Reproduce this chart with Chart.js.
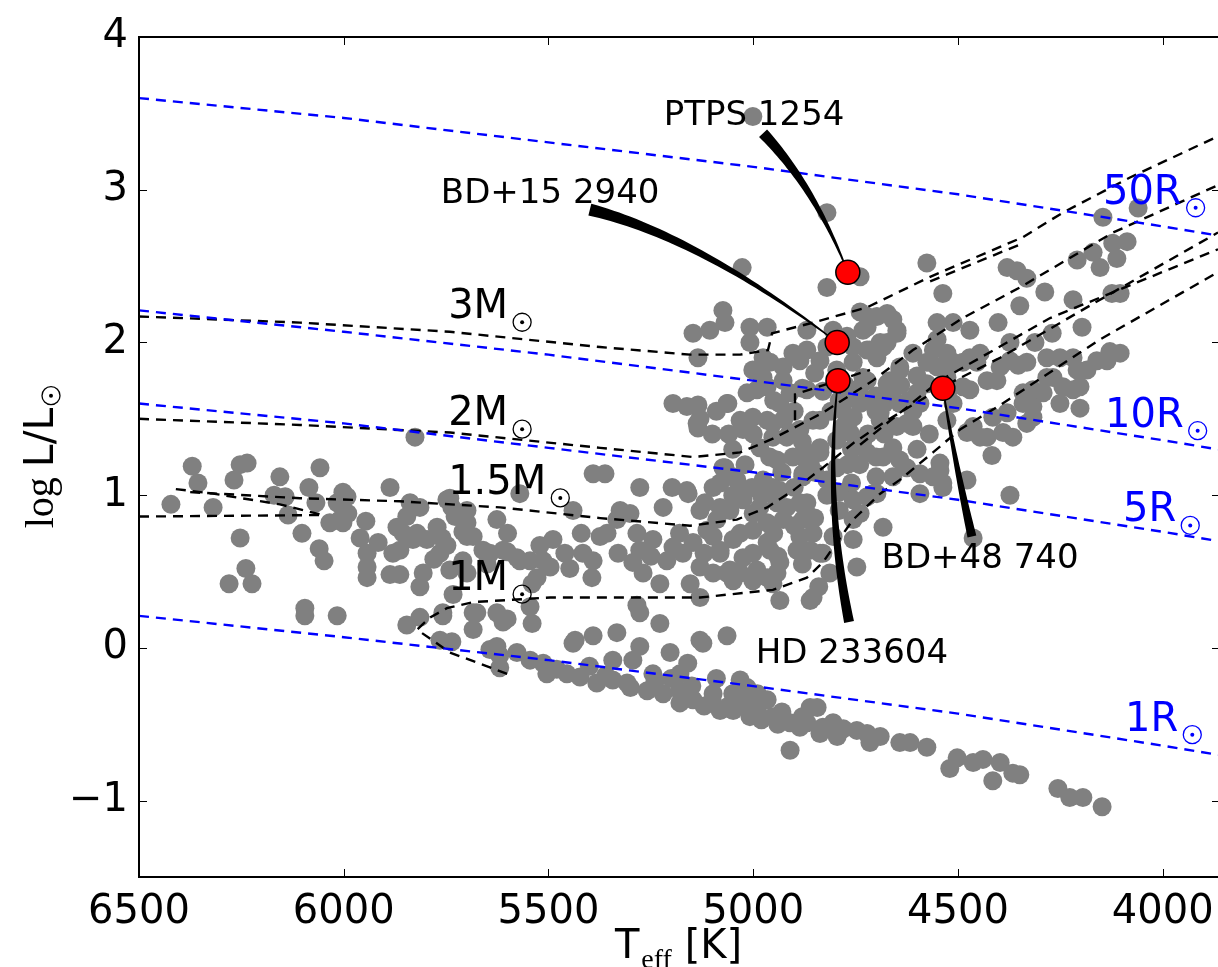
<!DOCTYPE html>
<html>
<head>
<meta charset="utf-8">
<script src="https://cdn.jsdelivr.net/npm/chart.js@4.4.0/dist/chart.umd.min.js"></script>
<style>
  html, body { margin: 0; padding: 0; background: #fff; }
  canvas { display: block; }
</style>
</head>
<body>
<canvas id="hrd" width="1218" height="967"></canvas>
<script>
// axis ticks
const tempTicks = [6500, 6000, 5500, 5000, 4500, 4000];
const lumTicks = [-1, 0, 1, 2, 3, 4];

// comparison sample: [Teff, log L/Lsun]
const stars = [
  [6370,1.19],[6356,1.08],[6422,0.94],[6319,0.92],[6268,1.10],[6253,1.20],[6236,1.21],[6156,1.12],
  [6058,1.18],[6085,1.05],[6068,0.95],[6170,1.00],[6143,0.99],[6136,0.87],[6102,0.75],[6060,0.65],
  [6048,0.57],[6253,0.72],[6239,0.52],[6224,0.42],[6280,0.42],[6095,0.26],[6095,0.21],[6016,0.21],
  [6034,0.82],[6009,0.84],[5992,0.99],[6016,0.95],[5990,0.88],[5946,0.83],[5887,1.05],[5943,0.62],
  [5943,0.53],[5943,0.46],[5916,0.69],[5887,0.48],[5863,0.48],[5846,0.15],[5826,1.38],[5870,0.79],
  [5863,0.64],[5831,0.92],[5831,0.71],[6002,1.02],[6002,0.82],[5838,0.95],[5821,0.75],[5814,0.40],
  [5806,0.49],[5772,0.79],[5748,0.67],[5741,0.98],[5728,0.86],[5699,0.90],[5684,0.73],[5626,0.84],
  [5709,0.76],[5709,0.57],[5741,0.51],[5660,0.64],[5601,0.63],[5570,0.57],[5521,0.67],[5513,0.57],
  [5570,1.01],[5684,0.23],[5733,0.35],[5758,0.21],[5626,0.23],[5611,0.17],[5545,0.27],[5540,0.16],
  [5684,0.12],[5765,0.05],[5736,0.04],[5643,-0.01],[5619,-0.05],[5577,-0.03],[5545,-0.08],[5513,-0.10],
  [5147,2.06],[5106,2.08],[5069,2.13],[5008,2.10],[4966,2.10],[5008,2.00],[5135,1.90],[4976,1.90],
  [4984,1.80],[4927,1.84],[4886,1.88],[5015,1.67],[4966,1.71],[4927,1.75],[5196,1.60],[5162,1.58],
  [5135,1.59],[5130,1.50],[5135,1.44],[5062,1.60],[5032,1.49],[5025,1.43],[5001,1.51],[4966,1.49],
  [4984,1.31],[4952,1.38],[4918,1.38],[4886,1.43],[4942,1.23],[4903,1.25],[5391,1.14],[5362,1.14],
  [5277,1.05],[5198,1.05],[5159,1.01],[5220,0.92],[5118,0.95],[5081,1.08],[5069,1.18],[5049,1.12],
  [5040,1.01],[5089,0.84],[5057,0.90],[5003,1.05],[4984,0.92],[4952,1.05],[4942,0.95],[4879,1.12],
  [4869,0.88],[5001,0.77],[4966,0.82],[4927,0.84],[4886,0.73],[4861,0.64],[5325,0.90],[5301,0.88],
  [5333,0.84],[5440,0.90],[5748,0.97],[5736,0.92],[5716,0.86],[5699,0.82],[5699,0.73],[5814,0.92],
  [5846,0.86],[5855,0.75],[5797,0.71],[5765,0.62],[5699,0.49],[5643,0.62],[5611,0.64],[5577,0.59],
  [5545,0.57],[5489,0.71],[5496,0.53],[5448,0.52],[5528,0.46],[5540,0.42],[5416,0.62],[5374,0.73],
  [5357,0.75],[5391,0.57],[5394,0.46],[5284,0.75],[5277,0.64],[5294,0.56],[5269,0.49],[5228,0.42],
  [5245,0.71],[5196,0.66],[5211,0.57],[5172,0.62],[5147,0.69],[5130,0.53],[5154,0.42],[5098,0.73],
  [5081,0.62],[5049,0.71],[5025,0.59],[5098,0.49],[5064,0.49],[5032,0.49],[5001,0.62],[4959,0.64],
  [4935,0.56],[4966,0.46],[4952,0.42],[5001,0.44],[5049,0.44],[5130,0.33],[5284,0.28],[5277,0.23],
  [5228,0.16],[5333,0.10],[5391,0.08],[5435,0.05],[5130,0.05],[5064,0.08],[4935,0.31],[4861,0.31],
  [5814,0.20],[5758,0.23],[5675,0.23],[5601,0.19],
  [5626,0.01],[5619,-0.13],[5504,-0.17],[5455,-0.17],[5423,-0.19],[5382,-0.23],[5343,-0.21],[5308,-0.23],
  [5343,-0.08],[5294,-0.08],[5277,0.01],[5245,-0.17],[5259,-0.28],[5220,-0.30],[5179,-0.36],[5147,-0.34],
  [5098,-0.30],[5081,-0.41],[5049,-0.41],[5008,-0.45],[4966,-0.34],[4952,-0.45],[4910,-0.49],[4910,-0.67],
  [4869,-0.49],[5203,-0.03],[5179,-0.17],[5123,0.03],[5032,-0.21],[5015,-0.26],[5440,0.03],
  [4861,-0.39],[4844,-0.39],[4886,-0.52],[4837,-0.56],[4805,-0.49],[4795,-0.58],[4747,-0.54],[4722,-0.56],
  [4715,-0.62],[4690,-0.58],[4642,-0.62],[4617,-0.62],[4576,-0.65],[4520,-0.79],[4502,-0.72],[4463,-0.75],
  [4439,-0.73],[4415,-0.87],[4397,-0.75],[4366,-0.82],[4349,-0.83],[4256,-0.92],[4227,-0.98],[4195,-0.98],
  [4148,-1.04],
  [5001,3.48],[5027,2.49],[4820,2.85],[4739,2.43],[4820,2.36],[4576,2.52],[4537,2.32],[4380,2.49],
  [4356,2.47],[4332,2.42],[4288,2.33],[4349,2.24],[4209,2.54],[4170,2.59],[4146,2.82],[4060,2.88],
  [4122,2.65],[4087,2.66],[4124,2.32],[4104,2.32],[4219,2.28],[4197,2.10],[4270,2.06],[4312,2.00],
  [4402,2.13],[4471,2.08],[4512,2.13],[4551,2.13],[4551,2.02],[4512,1.87],[4471,1.90],[4454,1.87],
  [4373,2.00],[4353,1.85],[4405,1.75],[4251,1.90],[4209,1.82],[4161,1.88],[4129,1.94],[4283,1.77],
  [4292,1.67],[4341,1.67],[4317,1.58],[4244,1.71],[4202,1.57],[4332,1.47],[4415,1.51],[4390,1.41],
  [4446,1.38],[4478,1.41],[4568,1.87],[4576,1.73],[4698,2.17],[4732,2.08],[4739,2.20],[4659,2.15],
  [4649,2.06],[4683,1.97],[4715,1.95],[4756,1.87],[5074,2.21],[4869,2.08],[4112,2.55],[4153,2.49],
  [4722,2.10],[4673,2.00],[4698,1.90],[4610,1.93],[4642,1.84],[4722,1.75],[4666,1.75],[4683,1.64],
  [4642,1.60],[4600,1.67],[4551,1.84],[4527,1.93],[4488,1.87],[4446,1.93],[4488,1.71],[4429,1.75],
  [4397,1.84],[4373,1.88],[4332,1.87],[4283,1.90],[4268,1.77],[4219,1.90],[4185,1.82],[4136,1.88],
  [4104,1.93],[4219,1.69],[4251,1.60],[4317,1.69],[4341,1.60],[4317,1.51],[4380,1.54],[4366,1.38],
  [4429,1.38],[4417,1.26],[4463,1.45],[4202,1.71],[4373,1.00],[4478,1.10],[4537,1.05],[4544,1.16],
  [4593,1.14],[4593,1.01],[4659,1.12],[4642,1.23],[4683,1.25],[4722,1.28],[4698,1.01],[4756,0.97],
  [4756,0.84],[4683,0.79],[4805,0.73],[4837,0.62],[4813,0.49],[4747,0.53],[4854,0.33],[4463,0.72],
  [4764,1.41],[4837,1.49],[4837,1.28],[4886,0.95],
  [5064,1.60],[5137,1.58],[5137,1.47],[4952,1.47],[4910,1.41],[5074,1.18],[5098,1.05],[5040,1.10],
  [5025,0.97],[5081,0.92],[5130,0.90],[5162,1.03],[5113,0.77],[5081,0.64],[5032,0.75],[5057,0.51],
  [4991,0.51],[4966,0.69],[4918,0.92],[4935,1.03],[4976,1.10],[4879,0.84],[4869,0.95],[4854,0.75],
  [4830,0.62],[4893,0.64],[4942,0.49],[4756,0.71],[4739,0.88],[4722,0.99],[4708,1.01],[4879,1.14],
  [4869,1.28],[4837,1.31],[4796,1.36],[4796,1.18],[4732,1.36],[4756,1.51],[4690,1.49],[4659,1.31],
  [4610,1.45],[4625,1.18],[4561,1.12],[4544,1.21],[4537,1.08],[4854,1.49],[4935,1.60],[4869,1.69],
  [4910,1.67],
  [4991,1.69],[4976,1.77],[4903,1.93],[4959,1.87],[5001,1.82],[4756,1.97],[4722,1.95],[4690,2.00],
  [4649,2.08],[4732,1.77],[4673,1.73],[4642,1.82],[4576,1.87],[4722,2.17],[4673,2.19],[4869,1.95],
  [4837,1.88],[4771,2.04],[4805,2.08],[4820,1.97],[4796,1.82],[4739,1.60],[4771,1.51],[4690,1.54],
  [4625,1.47],[4593,1.60],[4527,1.49],[4512,1.60],[4471,1.69],[4527,1.77],
  [4790,1.62],[4810,1.55],[4830,1.68],[4775,1.72],[4900,1.55],[4925,1.50],[4950,1.62],[4880,1.35],
  [4860,1.20],[4820,1.10],[4790,1.02],[4900,1.05],[4930,1.15],[4770,1.20],[4790,0.90],[4760,1.08],
  [4700,1.12],[4720,1.40],[4650,1.45],[4700,1.65],[4610,1.55],[4570,1.40],[4600,1.30],[5050,1.30],
  [5100,1.40],[5000,1.40],[5050,1.00],[5000,0.88],[5120,0.62],[5180,0.75],[5250,0.60],[5330,0.62],
  [5460,0.62],[5420,0.75],[5600,0.75],[5650,0.55],[5760,0.72],[5880,0.62],[5960,0.72],[5780,0.58],
  [4780,1.60],[4760,1.65],[4740,1.70],[4720,1.62],[4700,1.55],[4680,1.60],[4660,1.68],[4640,1.72],
  [4620,1.62],[4780,1.45],[4760,1.30],[4740,1.20],[4700,1.25],[4680,1.40],[4820,1.00],[4850,1.15],
  [4880,1.25],[4900,0.80],[4850,0.85],[4950,0.75],[4980,1.00],[5020,1.20],[4960,1.25],[5060,1.40],
  [5090,1.55],[4850,1.80],[4880,1.70],[4600,1.78],[4560,1.95],[4520,1.70],[4940,0.60],[4880,0.55],
  [4840,0.40],[5200,-0.20],[5150,-0.25],[5100,-0.35],[5050,-0.30],[4990,-0.40],[4930,-0.42],[5400,-0.12],
  [5480,-0.14],
  [5360,-0.18],[5300,-0.26],[5240,-0.22],[5180,-0.28],[5120,-0.38],[5060,-0.38],[5020,-0.36],[4980,-0.47],
  [4940,-0.50],[4880,-0.45],[4830,-0.52],[4780,-0.53],[5160,-0.10],[5090,-0.20],[4990,-0.30]
];

// the four targets
const targetNames = ['PTPS 1254', 'BD+15 2940', 'HD 233604', 'BD+48 740'];
const targetTeff = [4769, 4795, 4793, 4537];
const targetLogL = [2.46, 2.00, 1.75, 1.70];
const targetLabelTeff = [4998, 5496, 4759, 4446];
const targetLabelLogL = [3.50, 2.99, -0.02, 0.60];
// pointer: wide end, bend, then the star
const pointerStart = [[4976, 3.37], [5399, 2.87], [4766, 0.17], [4466, 0.73]];
const pointerBend = [[4849, 3.01], [5132, 2.69], [4826, 0.97], [4507, 1.21]];
const pointerWidth = [11, 12, 10, 9];

// lines of constant radius
const radiusTeff = [6500, 6000, 5500, 5000, 4500, 4000, 3865];
const r50 = [3.60, 3.47, 3.31, 3.15, 2.97, 2.76, 2.70];
const r10 = [2.21, 2.07, 1.92, 1.75, 1.57, 1.36, 1.30];
const r5 = [1.60, 1.47, 1.31, 1.15, 0.97, 0.76, 0.70];
const r1 = [0.21, 0.07, -0.08, -0.25, -0.43, -0.64, -0.70];
const radiusNames = ['50R', '10R', '5R', '1R'];
const radiusLabelTeff = [4146, 4141, 4097, 4092];
const radiusLabelLogL = [3.00, 1.54, 0.92, -0.45];

// evolutionary tracks
const track3M = [[6500,2.17],[6107,2.13],[5741,2.07],[5374,1.97],[5154,1.92],[5032,1.92],[4964,1.95],
  [4954,2.06],[4854,2.13],[4722,2.23],[4568,2.43],[4341,2.69],[4244,2.85],[4080,3.08],[3865,3.35]];
const track2M = [[6500,1.50],[6107,1.46],[5740,1.41],[5374,1.31],[5147,1.25],[5032,1.28],[4952,1.37],
  [4830,1.54],[4708,1.75],[4610,1.95],[4488,2.16],[4349,2.36],[4121,2.72],[3865,3.03]];
const track15M = [[6375,1.02],[6107,0.98],[5863,0.96],[5618,0.92],[5374,0.85],[5154,0.80],[5040,0.84],
  [4966,0.92],[4903,1.03],[4830,1.18],[4756,1.34],[4673,1.49],[4537,1.71],[4397,1.90],[4153,2.28],[3865,2.72]];
const track15Mb = [[6500,0.86],[6051,0.87]];
const track15Mc = [[6410,1.04],[6319,1.01],[6156,0.94],[6051,0.87]];
const track1M = [[5601,-0.17],[5741,-0.03],[5821,0.12],[5789,0.20],[5748,0.26],[5684,0.30],[5496,0.33],
  [5294,0.33],[5130,0.33],[4952,0.38],[4869,0.46],[4830,0.56],[4796,0.69],[4756,0.84],[4690,1.01],
  [4642,1.10],[4561,1.28],[4495,1.43],[4397,1.59],[4153,2.02],[3865,2.46]];
const trackExtra = [[4739,1.33],[4544,1.75],[4275,2.16],[3865,2.61]];
const loop3M = [[4568,2.40],[4341,2.65]];
const loop2M = [[4898,1.49],[4898,1.66],[4715,1.82]];
const massNames = ['3M', '2M', '1.5M', '1M'];
const massLabelTeff = [5745, 5745, 5745, 5745];
const massLabelLogL = [2.25, 1.55, 1.10, 0.47];

const SANS = "'DejaVu Sans', sans-serif";
const SERIF = "'Liberation Serif', serif";

function toXY(pts) {
  return pts.map(p => ({ x: p[0], y: p[1] }));
}

function dashed(pts, color, order) {
  return {
    type: 'line',
    data: toXY(pts),
    borderColor: color,
    borderWidth: 2.4,
    borderDash: [10, 7],
    pointRadius: 0,
    fill: false,
    tension: 0,
    order: order
  };
}

const datasets = [];
datasets.push({
  type: 'scatter',
  data: toXY(stars),
  backgroundColor: '#808080',
  borderWidth: 0,
  pointRadius: 9.5,
  order: 10
});
[r50, r10, r5, r1].forEach(r => {
  datasets.push(dashed(radiusTeff.map((t, i) => [t, r[i]]), '#0000ff', 7));
});
[track3M, track2M, track15M, track15Mb, track15Mc, track1M, trackExtra, loop3M, loop2M].forEach(t => {
  datasets.push(dashed(t, '#000000', 8));
});
const redIndex = datasets.length;
datasets.push({
  type: 'scatter',
  data: targetTeff.map((t, i) => ({ x: t, y: targetLogL[i] })),
  backgroundColor: '#ff0000',
  borderColor: '#000000',
  borderWidth: 1.5,
  pointRadius: 12,
  order: 1
});

function drawSun(ctx, x, y, color) {
  ctx.save();
  ctx.strokeStyle = color;
  ctx.fillStyle = color;
  ctx.lineWidth = 1.3;
  ctx.beginPath();
  ctx.arc(x, y, 9, 0, 2 * Math.PI);
  ctx.stroke();
  ctx.beginPath();
  ctx.arc(x, y, 2, 0, 2 * Math.PI);
  ctx.fill();
  ctx.restore();
}

function drawWedge(ctx, xs, ys, p0, c, p2, w0, w1) {
  const A = [xs.getPixelForValue(p0[0]), ys.getPixelForValue(p0[1])];
  const B = [xs.getPixelForValue(c[0]), ys.getPixelForValue(c[1])];
  const C = [xs.getPixelForValue(p2[0]), ys.getPixelForValue(p2[1])];
  const side1 = [], side2 = [];
  const n = 40;
  for (let i = 0; i <= n; i++) {
    const t = i / n, mt = 1 - t;
    const x = mt * mt * A[0] + 2 * mt * t * B[0] + t * t * C[0];
    const y = mt * mt * A[1] + 2 * mt * t * B[1] + t * t * C[1];
    const dx = 2 * mt * (B[0] - A[0]) + 2 * t * (C[0] - B[0]);
    const dy = 2 * mt * (B[1] - A[1]) + 2 * t * (C[1] - B[1]);
    const len = Math.hypot(dx, dy) || 1;
    const w = (w0 * mt + w1 * t) / 2;
    side1.push([x - dy / len * w, y + dx / len * w]);
    side2.push([x + dy / len * w, y - dx / len * w]);
  }
  ctx.beginPath();
  side1.forEach((p, i) => i ? ctx.lineTo(p[0], p[1]) : ctx.moveTo(p[0], p[1]));
  side2.reverse().forEach(p => ctx.lineTo(p[0], p[1]));
  ctx.closePath();
  ctx.fill();
}

const decor = {
  id: 'decor',
  beforeDatasetDraw(chart, args) {
    if (args.index !== redIndex) return;
    const ctx = chart.ctx, xs = chart.scales.x, ys = chart.scales.y;
    ctx.save();
    ctx.fillStyle = '#000';
    targetTeff.forEach((t, i) => {
      drawWedge(ctx, xs, ys, pointerStart[i], pointerBend[i], [t, targetLogL[i]], pointerWidth[i], 1.2);
    });
    ctx.restore();
  },
  afterDraw(chart) {
    const ctx = chart.ctx, xs = chart.scales.x, ys = chart.scales.y;
    const a = chart.chartArea;
    ctx.save();

    // frame
    ctx.strokeStyle = '#000';
    ctx.lineWidth = 2;
    ctx.strokeRect(a.left, a.top, a.right + 1 - a.left, a.bottom - a.top);

    // inward ticks
    ctx.lineWidth = 1;
    tempTicks.forEach(v => {
      const x = Math.round(xs.getPixelForValue(v)) + 0.5;
      ctx.beginPath();
      ctx.moveTo(x, a.bottom); ctx.lineTo(x, a.bottom - 8);
      ctx.moveTo(x, a.top); ctx.lineTo(x, a.top + 8);
      ctx.stroke();
    });
    lumTicks.forEach(v => {
      const y = Math.round(ys.getPixelForValue(v)) + 0.5;
      ctx.beginPath();
      ctx.moveTo(a.left, y); ctx.lineTo(a.left + 8, y);
      ctx.moveTo(a.right, y); ctx.lineTo(a.right - 6, y);
      ctx.stroke();
    });

    ctx.textAlign = 'left';
    ctx.textBaseline = 'alphabetic';

    // mass labels
    ctx.fillStyle = '#000';
    ctx.font = '40px ' + SANS;
    massNames.forEach((s, i) => {
      const x = xs.getPixelForValue(massLabelTeff[i]);
      const y = ys.getPixelForValue(massLabelLogL[i]);
      ctx.fillText(s, x, y + 14);
      drawSun(ctx, x + ctx.measureText(s).width + 14, y + 18, '#000');
    });

    // radius labels
    ctx.fillStyle = '#0000ff';
    radiusNames.forEach((s, i) => {
      const x = xs.getPixelForValue(radiusLabelTeff[i]);
      const y = ys.getPixelForValue(radiusLabelLogL[i]);
      ctx.fillText(s, x, y + 14);
      drawSun(ctx, x + ctx.measureText(s).width + 14, y + 18, '#0000ff');
    });

    // star names
    ctx.fillStyle = '#000';
    ctx.font = '34px ' + SANS;
    ctx.textAlign = 'center';
    targetNames.forEach((s, i) => {
      const x = xs.getPixelForValue(targetLabelTeff[i]);
      const y = ys.getPixelForValue(targetLabelLogL[i]);
      ctx.fillText(s, x, y + 12);
    });

    // x title: T_eff [K]
    ctx.textAlign = 'left';
    const cx = (a.left + a.right) / 2;
    ctx.font = '40px ' + SANS;
    const wT = ctx.measureText('T').width;
    const wK = ctx.measureText(' [K]').width;
    ctx.font = '28px ' + SERIF;
    const wE = ctx.measureText('eff').width;
    let x0 = cx - (wT + 2 + wE + wK) / 2;
    ctx.font = '40px ' + SANS;
    ctx.fillText('T', x0, 958);
    ctx.font = '28px ' + SERIF;
    ctx.fillText('eff', x0 + wT + 2, 968);
    ctx.font = '40px ' + SANS;
    ctx.fillText(' [K]', x0 + wT + 2 + wE, 958);

    // y title: log L/L_sun
    const cy = (a.top + a.bottom) / 2;
    ctx.translate(53, cy);
    ctx.rotate(-Math.PI / 2);
    ctx.font = '40px ' + SERIF;
    const wLog = ctx.measureText('log ').width;
    ctx.font = '41px ' + SANS;
    const wL = ctx.measureText('L/L').width;
    const total = wLog + wL + 22;
    let s0 = -total / 2;
    ctx.font = '40px ' + SERIF;
    ctx.fillText('log ', s0, 0);
    ctx.font = '41px ' + SANS;
    ctx.fillText('L/L', s0 + wLog, 0);
    drawSun(ctx, s0 + wLog + wL + 12, -2, '#000');

    ctx.restore();
  }
};

new Chart(document.getElementById('hrd'), {
  type: 'scatter',
  data: { datasets: datasets },
  options: {
    responsive: false,
    animation: false,
    devicePixelRatio: 1,
    layout: { autoPadding: false, padding: { top: 37, left: 0, right: 0, bottom: 0 } },
    plugins: { legend: { display: false }, tooltip: { enabled: false } },
    scales: {
      x: {
        type: 'linear',
        reverse: true,
        min: 3865,
        max: 6500,
        grid: { display: false, drawTicks: false },
        border: { display: false },
        ticks: {
          color: '#000',
          font: { family: SANS, size: 40 },
          padding: 12,
          maxRotation: 0,
          autoSkip: false,
          callback: v => String(v)
        },
        afterBuildTicks: s => { s.ticks = tempTicks.map(v => ({ value: v })); },
        afterFit: s => { s.height = 90; s.paddingLeft = 0; s.paddingRight = 0; }
      },
      y: {
        type: 'linear',
        min: -1.5,
        max: 4,
        grid: { display: false, drawTicks: false },
        border: { display: false },
        ticks: {
          color: '#000',
          font: { family: SANS, size: 40 },
          padding: 11,
          callback: v => v < 0 ? '\u2212' + Math.abs(v) : String(v)
        },
        afterBuildTicks: s => { s.ticks = lumTicks.map(v => ({ value: v })); },
        afterFit: s => { s.width = 139; s.paddingTop = 0; s.paddingBottom = 0; }
      }
    }
  },
  plugins: [decor]
});
</script>
</body>
</html>
